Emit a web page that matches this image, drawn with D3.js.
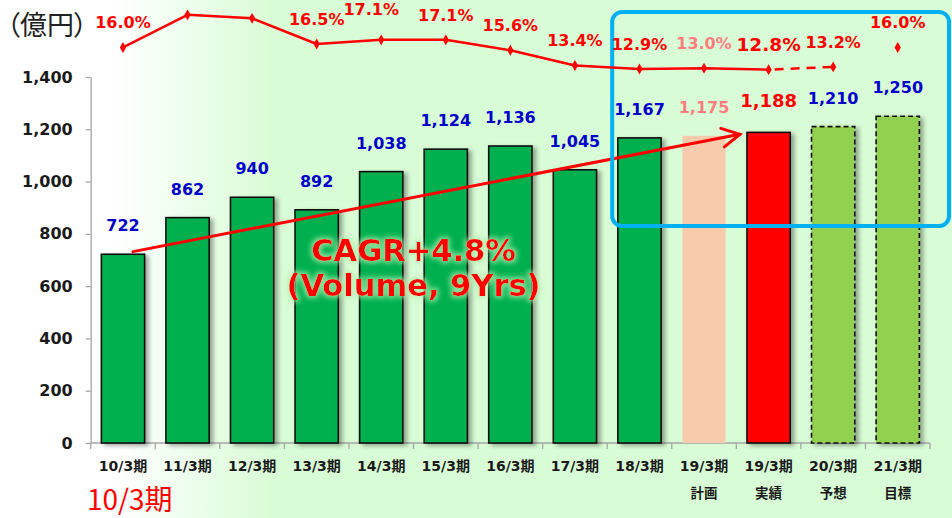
<!DOCTYPE html>
<html><head><meta charset="utf-8">
<script src="https://cdn.jsdelivr.net/npm/d3@7"></script>
<style>html,body{margin:0;padding:0;background:#fff;} svg{display:block;} .palt{font-feature-settings:"palt" 1;}</style>
</head><body>
<svg id="chart" width="952" height="518"></svg>
<script>
// ---------------- data ----------------
const categories = ["10/3期","11/3期","12/3期","13/3期","14/3期","15/3期","16/3期","17/3期","18/3期","19/3期","19/3期","20/3期","21/3期"];
const subLabels = ["","","","","","","","","","計画","実績","予想","目標"];
const sales = [722,862,940,892,1038,1124,1136,1045,1167,1175,1188,1210,1250];
const salesLabels = ["722","862","940","892","1,038","1,124","1,136","1,045","1,167","1,175","1,188","1,210","1,250"];
const barKinds = ["past","past","past","past","past","past","past","past","past","plan","result","forecast","target"];
const margins = [16.0,20.7,20.2,16.5,17.1,17.1,15.6,13.4,12.9,13.0,12.8,13.2,16.0];
const marginLabels = ["16.0%",null,null,"16.5%","17.1%","17.1%","15.6%","13.4%","12.9%","13.0%","12.8%","13.2%","16.0%"];
const yTicks = [0,200,400,600,800,1000,1200,1400];
const yTickLabels = ["0","200","400","600","800","1,000","1,200","1,400"];
const unitLabel = "（億円）";
const cagrLines = ["CAGR+4.8%","(Volume, 9Yrs)"];
const cornerLabel = "10/3期";
const cagrFrom = 732, cagrTo = 1181; // annotation arrow levels (億円)

// ---------------- styles ----------------
const kindStyle = {
  past:     {fill:"#00B050", stroke:"#111", dash:null,  label:"#0000CC", size:16, shadow:true},
  plan:     {fill:"#F8CBAD", stroke:"none", dash:null, label:"#FF7C80", size:16, shadow:false},
  result:   {fill:"#FF0000", stroke:"#111", dash:null,  label:"#FF0000", size:18, shadow:true},
  forecast: {fill:"#92D050", stroke:"#111", dash:"5,3", label:"#0000CC", size:16, shadow:true},
  target:   {fill:"#92D050", stroke:"#111", dash:"5,3", label:"#0000CC", size:16, shadow:true}
};
const pctColor = {past:"#FF0000", plan:"#FF7C80", result:"#FF0000", forecast:"#FF0000", target:"#FF0000"};
const numFont = "'DejaVu Sans', 'Noto Sans CJK JP', sans-serif";
const jpFont = "'Noto Sans CJK JP', 'DejaVu Sans', sans-serif";

const svg = d3.select("#chart");
const W = 952, H = 518;

// ---------------- defs ----------------
const defs = svg.append("defs");
const grad = defs.append("linearGradient").attr("id","bg").attr("x1","0").attr("x2","1").attr("y1","0").attr("y2","0");
grad.append("stop").attr("offset","0").attr("stop-color","#ffffff");
grad.append("stop").attr("offset","0.12").attr("stop-color","#ffffff");
grad.append("stop").attr("offset","0.29").attr("stop-color","#d8fcd5");
grad.append("stop").attr("offset","1").attr("stop-color","#d8fcd5");

const sh = defs.append("filter").attr("id","shadow").attr("x","-20%").attr("y","-20%").attr("width","150%").attr("height","140%");
sh.append("feDropShadow").attr("dx",3.5).attr("dy",2).attr("stdDeviation",2.2)
  .attr("flood-color","#000").attr("flood-opacity",0.35);

const glow = defs.append("filter").attr("id","glow").attr("x","-10%").attr("y","-30%").attr("width","120%").attr("height","160%");
glow.append("feMorphology").attr("in","SourceAlpha").attr("operator","dilate").attr("radius",2).attr("result","d");
glow.append("feGaussianBlur").attr("in","d").attr("stdDeviation",2.5).attr("result","b");
glow.append("feFlood").attr("flood-color","#b4efae").attr("flood-opacity",0.75).attr("result","f");
glow.append("feComposite").attr("in","f").attr("in2","b").attr("operator","in").attr("result","g");
const gm = glow.append("feMerge");
gm.append("feMergeNode").attr("in","g");
gm.append("feMergeNode").attr("in","SourceGraphic");

svg.append("rect").attr("width",W).attr("height",H).attr("fill","url(#bg)");

// ---------------- scales ----------------
const idx = d3.range(categories.length);
const x = d3.scaleBand().domain(idx).range([90.7, 930]).paddingInner(0.33).paddingOuter(0.165);
const y = d3.scaleLinear().domain([0,1400]).range([443, 77]);
const yPct = d3.scaleLinear().domain([12,20]).range([75.2, 19.7]);
const bw = x.bandwidth();
const cx = i => x(i) + bw/2;
const edge = i => cx(i) - x.step()/2;

// ---------------- axes ----------------
const yAxis = d3.axisLeft(y).tickValues(yTicks).tickFormat((d,i)=>yTickLabels[i])
  .tickSize(5).tickSizeOuter(0).tickPadding(13);
const gy = svg.append("g").attr("transform","translate(90.7,0)").call(yAxis);
gy.select(".domain").attr("stroke","#a6a6a6").attr("stroke-width",1.3);
gy.selectAll(".tick line").attr("stroke","#a6a6a6").attr("stroke-width",1.3);
gy.selectAll(".tick text").attr("fill","#1a1a1a").attr("font-family",numFont)
  .attr("font-weight","bold").attr("font-size",16);

// x axis baseline and boundary ticks
const gx = svg.append("g");
gx.append("line").attr("x1",edge(0)).attr("x2",edge(categories.length-1)+x.step())
  .attr("y1",y(0)).attr("y2",y(0)).attr("stroke","#a6a6a6").attr("stroke-width",1.3);
gx.selectAll("line.t").data(d3.range(categories.length+1)).join("line").attr("class","t")
  .attr("x1",i=>edge(0)+i*x.step()).attr("x2",i=>edge(0)+i*x.step())
  .attr("y1",y(0)).attr("y2",y(0)+6).attr("stroke","#a6a6a6").attr("stroke-width",1.3);

const xAxis = d3.axisBottom(x).tickSize(0).tickPadding(0).tickFormat(i=>categories[i]);
const gxl = svg.append("g").attr("transform",`translate(0,${y(0)})`).call(xAxis);
gxl.select(".domain").remove();
gxl.selectAll(".tick text").attr("y",28).attr("dy",0).attr("fill","#1a1a1a")
  .attr("font-family",numFont).attr("font-weight","bold").attr("font-size",14);
gxl.selectAll(".tick").append("text").attr("y",55).attr("text-anchor","middle")
  .attr("fill","#1a1a1a").attr("font-family",jpFont).attr("font-weight","bold").attr("font-size",13.5)
  .text(i=>subLabels[i]);

// ---------------- bars ----------------
svg.append("g").selectAll("rect").data(idx).join("rect")
  .attr("x",i=>x(i)).attr("width",bw)
  .attr("y",i=>y(sales[i])).attr("height",i=>y(0)-y(sales[i]))
  .attr("fill",i=>kindStyle[barKinds[i]].fill)
  .attr("stroke",i=>kindStyle[barKinds[i]].stroke)
  .attr("stroke-width",1.6)
  .attr("stroke-dasharray",i=>kindStyle[barKinds[i]].dash)
  .attr("filter",i=>kindStyle[barKinds[i]].shadow ? "url(#shadow)" : null);

// value labels
svg.append("g").selectAll("text").data(idx).join("text")
  .attr("x",i=>cx(i)).attr("y",i=>y(sales[i]) - (kindStyle[barKinds[i]].size>16 ? 25 : 23))
  .attr("text-anchor","middle").attr("font-family",numFont).attr("font-weight","bold")
  .attr("font-size",i=>kindStyle[barKinds[i]].size)
  .attr("fill",i=>kindStyle[barKinds[i]].label)
  .text(i=>salesLabels[i]);

// ---------------- CAGR arrow ----------------
const ax0 = cx(0)+10, ay0 = y(cagrFrom), ax1 = x(10)-7, ay1 = y(cagrTo);
const ang = Math.atan2(ay1-ay0, ax1-ax0);
const headLen = 20, headAng = 28*Math.PI/180;
const arrow = svg.append("g").attr("stroke","#FF0000").attr("stroke-width",3).attr("fill","none").attr("stroke-linecap","round");
arrow.append("line").attr("x1",ax0).attr("y1",ay0).attr("x2",ax1).attr("y2",ay1);
arrow.append("path").attr("stroke-linejoin","miter").attr("d",
  `M${ax1-headLen*Math.cos(ang-headAng)},${ay1-headLen*Math.sin(ang-headAng)}L${ax1},${ay1}L${ax1-headLen*Math.cos(ang+headAng)},${ay1-headLen*Math.sin(ang+headAng)}`);

// CAGR text
const cagr = svg.append("g").attr("filter","url(#glow)");
cagr.selectAll("text").data(cagrLines).join("text")
  .attr("x",(cx(4)+cx(5))/2).attr("y",(d,i)=>261+i*35)
  .attr("text-anchor","middle").attr("font-family",numFont).attr("font-weight","bold")
  .attr("font-size",30.5).attr("fill","#FF0000").text(d=>d);

// ---------------- highlight box ----------------
svg.append("rect").attr("x",edge(8)+5).attr("y",12)
  .attr("width",(edge(12)+x.step()+19)-(edge(8)+5)).attr("height",y(830)-12)
  .attr("rx",10).attr("fill","none").attr("stroke","#00B0F0").attr("stroke-width",4);

// ---------------- margin line ----------------
const line = d3.line().x(i=>cx(i)).y(i=>yPct(margins[i]));
const lg = svg.append("g");
lg.append("path").attr("d",line(d3.range(0,11))).attr("fill","none")
  .attr("stroke","#FF0000").attr("stroke-width",2.5).attr("stroke-linejoin","round");
lg.append("path").attr("d",line([10,11])).attr("fill","none")
  .attr("stroke","#FF0000").attr("stroke-width",2.5).attr("stroke-dasharray","9,7")
  .attr("stroke-dashoffset",-6);
lg.selectAll("path.m").data(idx).join("path").attr("class","m")
  .attr("transform",i=>`translate(${cx(i)},${yPct(margins[i])})`)
  .attr("d",d3.symbol(d3.symbolDiamond,34)).attr("fill","#FF0000");

lg.selectAll("text").data(idx.filter(i=>marginLabels[i])).join("text")
  .attr("x",i=>cx(i) + (i===4 ? -10 : 0))
  .attr("y",i=>yPct(margins[i]) - (i===4 ? 25 : 19))
  .attr("text-anchor","middle").attr("font-family",numFont).attr("font-weight","bold")
  .attr("font-size",i=>barKinds[i]==="result" ? 18.5 : 16)
  .attr("fill",i=>pctColor[barKinds[i]])
  .text(i=>marginLabels[i]);

// ---------------- titles ----------------
svg.append("text").attr("class","palt").attr("x",47).attr("y",35).attr("text-anchor","middle")
  .attr("font-family",jpFont).attr("font-size",27).attr("fill","#222").text(unitLabel);
svg.append("text").attr("x",87).attr("y",510)
  .attr("font-family",jpFont).attr("font-size",28).attr("fill","#FF0000").text(cornerLabel);
</script>
</body></html>
